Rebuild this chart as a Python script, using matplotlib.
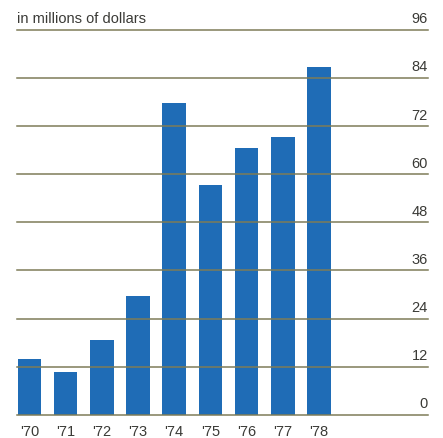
import matplotlib
matplotlib.use("Agg")
import matplotlib.pyplot as plt
from matplotlib.transforms import offset_copy

years = ["'70", "'71", "'72", "'73", "'74", "'75", "'76", "'77", "'78"]
values = [13.9, 10.6, 18.7, 29.7, 77.9, 57.3, 66.6, 69.4, 86.8]
y_ticks = [0, 12, 24, 36, 48, 60, 72, 84, 96]
unit_label = "in millions of dollars"

BAR = "#1f6cb6"
GRID = "#7e7c58"
TEXT = "#3a3a36"

plt.rcParams["font.family"] = ["Liberation Sans", "DejaVu Sans"]

fig = plt.figure(figsize=(4.43, 4.39), dpi=100)
fig.patch.set_facecolor("white")
ax = fig.add_axes([17 / 443, (439 - 415.7) / 439, 411 / 443, (415.7 - 31) / 439])
ax.set_facecolor("white")

x = list(range(len(years)))
ax.bar(x, values, width=0.65, color=BAR, zorder=2)

for t in y_ticks:
    ax.axhline(t, color=GRID, lw=1.1, zorder=3, clip_on=False)

ax.set_xlim(-0.34, 11.01)
ax.set_ylim(0, 96)
for s in ax.spines.values():
    s.set_visible(False)
ax.set_xticks([])
ax.set_yticks([])

# value labels sit just above their gridlines at the right edge
lbl_tr = offset_copy(ax.get_yaxis_transform(), fig=fig, x=0, y=5.5, units="points")
for t in y_ticks:
    ax.text(1.0, t, str(t), transform=lbl_tr, ha="right", va="baseline",
            fontsize=10.5, color=TEXT)
ax.text(0.0, 96, unit_label, transform=lbl_tr, ha="left", va="baseline",
        fontsize=10.5, color=TEXT)

# year labels under the baseline
yr_tr = offset_copy(ax.get_xaxis_transform(), fig=fig, x=0, y=-11.5, units="points")
for xi, yr in zip(x, years):
    ax.text(xi, 0, yr, transform=yr_tr, ha="center", va="center",
            fontsize=10.5, color=TEXT)

fig.savefig("out.png", dpi=100, facecolor="white")
